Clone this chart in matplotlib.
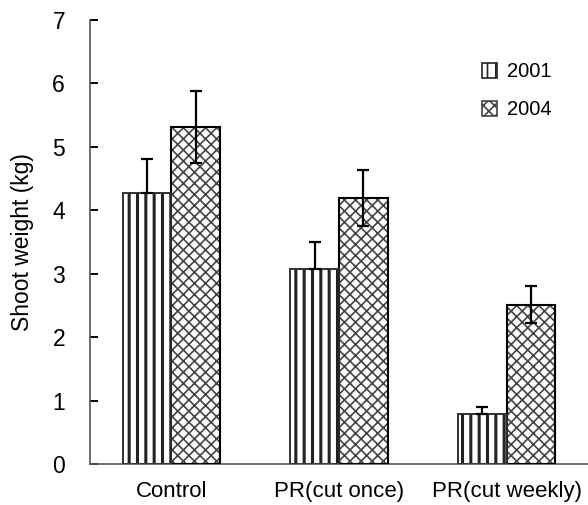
import matplotlib
matplotlib.use("Agg")
import matplotlib.pyplot as plt
import numpy as np

categories = ["Control", "PR(cut once)", "PR(cut weekly)"]
series_names = ["2001", "2004"]
vals_2001 = [4.27, 3.08, 0.79]
err_2001 = [0.54, 0.42, 0.11]
vals_2004 = [5.31, 4.20, 2.51]
err_2004 = [0.57, 0.44, 0.29]
yticks = [0, 1, 2, 3, 4, 5, 6, 7]

plt.rcParams['font.family'] = ['Liberation Sans', 'DejaVu Sans']

fig = plt.figure(figsize=(5.88, 5.05), dpi=100)
ax = fig.add_axes([90/588, 41/505, 498/588, 444/505])

x = np.arange(len(categories))
w = 0.29

plt.rcParams['hatch.linewidth'] = 2.2
b1 = ax.bar(x - w/2, vals_2001, w, facecolor='white', edgecolor='#222222',
            hatch='||', linewidth=1.2, label=series_names[0], zorder=2)
plt.rcParams['hatch.linewidth'] = 1.2
b2 = ax.bar(x + w/2, vals_2004, w, facecolor='white', edgecolor='#444444',
            hatch='xxx', linewidth=1.2, label=series_names[1], zorder=2)
for r in b1:
    if hasattr(r, 'set_hatch_linewidth'):
        r.set_hatch_linewidth(2.2)
for r in b2:
    if hasattr(r, 'set_hatch_linewidth'):
        r.set_hatch_linewidth(1.2)
ax.bar(x + w/2, vals_2004, w, facecolor='none', edgecolor='black', linewidth=1.5, zorder=3)
ax.bar(x - w/2, vals_2001, w, facecolor='none', edgecolor='#333333', linewidth=1.2, zorder=3)

ax.errorbar(x - w/2, vals_2001, yerr=[np.zeros(len(err_2001)), err_2001], fmt='none',
            ecolor='black', elinewidth=1.6, capsize=4.5, capthick=1.6, zorder=4)
ax.errorbar(x + w/2, vals_2004, yerr=err_2004, fmt='none',
            ecolor='black', elinewidth=1.6, capsize=4.5, capthick=1.6, zorder=4)

ax.set_xlim(-0.485, 2.485)
ax.set_ylim(0, 7)
ax.set_yticks(yticks)
ax.set_xticks(x)
ax.set_xticklabels(categories, fontsize=16)
ax.tick_params(axis='x', length=0, pad=12)
ax.tick_params(axis='y', labelsize=16.5, length=6, width=1.4, color='black',
               direction='in', pad=18)
for s in ['top', 'right']:
    ax.spines[s].set_visible(False)
for s in ['left', 'bottom']:
    ax.spines[s].set_color('#555555')
    ax.spines[s].set_linewidth(1.2)

ax.set_ylabel("Shoot weight (kg)", fontsize=16.5, labelpad=13)

leg = ax.legend(loc='upper left', bbox_to_anchor=(0.787, 0.905), frameon=False,
                borderaxespad=0, borderpad=0,
                fontsize=14.5, handlelength=0.75, handleheight=0.75, labelspacing=0.95,
                handletextpad=0.5)

fig.savefig("out.png", dpi=100)
